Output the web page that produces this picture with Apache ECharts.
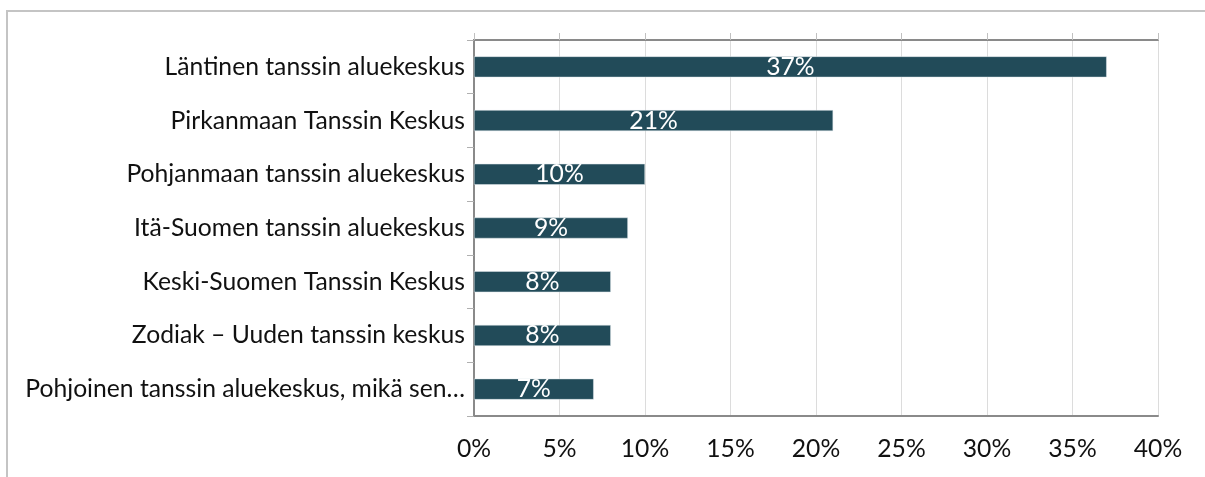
<!DOCTYPE html>
<html>
<head>
<meta charset="utf-8">
<script src="https://cdn.jsdelivr.net/npm/echarts@6/dist/echarts.min.js"></script>
<style>
  html, body { margin: 0; padding: 0; background: #fff; }
  #frame { position: absolute; left: 6px; top: 10px; width: 1260px; height: 520px; border: 2px solid #c4c4c4; box-sizing: border-box; }
  #chart { position: absolute; left: 0; top: 0; width: 1205px; height: 477px; }
</style>
</head>
<body>
<div id="frame"></div>
<div id="chart"></div>
<script>
{
    const categories = [
        'Läntinen tanssin aluekeskus',
        'Pirkanmaan Tanssin Keskus',
        'Pohjanmaan tanssin aluekeskus',
        'Itä-Suomen tanssin aluekeskus',
        'Keski-Suomen Tanssin Keskus',
        'Zodiak – Uuden tanssin keskus',
        'Pohjoinen tanssin aluekeskus, mikä sen…'
    ];
    const values = [37, 21, 10, 9, 8, 8, 7];
    const ticks = [0, 5, 10, 15, 20, 25, 30, 35, 40];

    var dom = document.querySelector('#chart');
    var myChart = echarts.init(dom);
    const font = 'Lato, "Open Sans", sans-serif';
    const option = {
        animation: false,
        grid: { left: 474, right: 47, top: 40, bottom: 61, containLabel: false },
        xAxis: [
            {
                type: 'value',
                position: 'bottom',
                min: ticks[0],
                max: ticks[ticks.length - 1],
                interval: 5,
                axisLine: { show: true, lineStyle: { color: '#8a8a8a', width: 2 } },
                axisTick: { show: false },
                splitLine: { show: true, lineStyle: { color: '#dcdcdc', width: 1 } },
                axisLabel: { formatter: '{value}%', color: '#111', fontSize: 24.7, fontFamily: font, margin: 21 }
            },
            {
                type: 'value',
                position: 'top',
                min: ticks[0],
                max: ticks[ticks.length - 1],
                interval: 5,
                axisLine: { show: true, lineStyle: { color: '#8a8a8a', width: 2 } },
                axisTick: { show: true, length: 7, lineStyle: { color: '#c0c0c0', width: 1 } },
                splitLine: { show: false },
                axisLabel: { show: false }
            }
        ],
        yAxis: [
            {
                type: 'category',
                data: categories,
                inverse: true,
                position: 'left',
                axisLine: { show: true, lineStyle: { color: '#8a8a8a', width: 2 } },
                axisTick: { show: true, length: 7, lineStyle: { color: '#b0b0b0', width: 1 } },
                axisLabel: { color: '#111', fontSize: 24.7, fontFamily: font, margin: 9 }
            },
            {
                type: 'category',
                data: categories,
                inverse: true,
                position: 'right',
                axisLine: { show: true, lineStyle: { color: '#8a8a8a', width: 2 } },
                axisTick: { show: false },
                axisLabel: { show: false }
            }
        ],
        series: [
            {
                type: 'bar',
                data: values,
                barCategoryGap: '61%',
                itemStyle: { color: '#224b59', borderColor: '#dfe7ea', borderWidth: 0.5 },
                label: {
                    show: true,
                    position: 'inside',
                    formatter: '{c}%',
                    color: '#fff',
                    fontSize: 24.7,
                    fontFamily: font
                }
            }
        ]
    };
    myChart.setOption(option);
}
</script>
</body>
</html>
